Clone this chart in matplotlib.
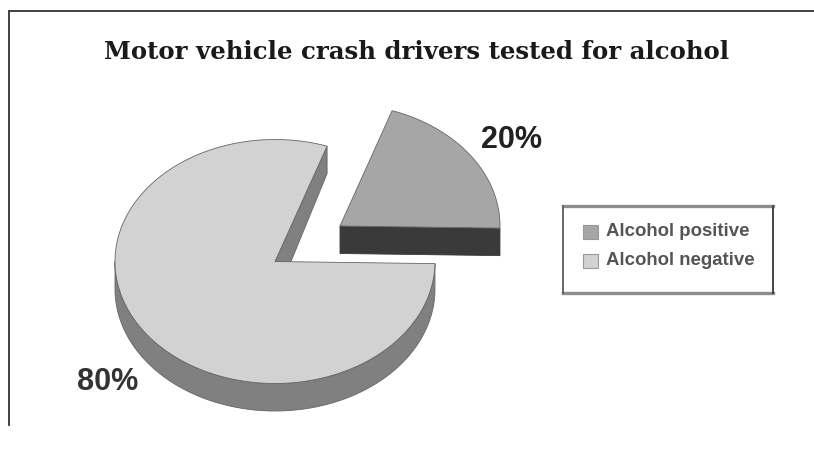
import matplotlib
matplotlib.use("Agg")
import matplotlib.pyplot as plt
import numpy as np
from matplotlib.patches import Polygon, Rectangle

# Datos
categorias = ["Alcohol positive", "Alcohol negative"]
porcentajes = [20, 80]
etiquetas = ["20%", "80%"]
titulo = "Motor vehicle crash drivers tested for alcohol"

# Colores
gris_pos = "#a6a6a6"
gris_pos_lado = "#3a3a3a"
gris_neg = "#d2d2d2"
gris_neg_lado = "#808080"
borde = "#666666"

# Geometria del pastel en pixeles
cx, cy = 275, 261.5
rx, ry = 160, 122
prof = 27.5
sep_x, sep_y = 65, -35.5
inicio = -1

fig = plt.figure(figsize=(8.14, 4.51), dpi=100)
ax = fig.add_axes([0, 0, 1, 1])
ax.set_xlim(0, 814)
ax.set_ylim(451, 0)
ax.axis("off")


def arco(a0, a1, x0, y0):
    t = np.radians(np.linspace(a0, a1, 200))
    return np.column_stack([x0 + rx * np.cos(t), y0 - ry * np.sin(t)])


ang_pos = 360 * porcentajes[0] / sum(porcentajes)
fin = inicio + ang_pos

# Marco (solo arriba e izquierda)
ax.plot([8.5, 8.5, 814], [425, 10.5, 10.5], color="#333333", lw=1.3, solid_joinstyle="miter")

# Rebanada grande: lado
lado = arco(180, 360 + inicio, cx, cy)
lado = np.vstack([lado, lado[::-1] + [0, prof]])
ax.add_patch(Polygon(lado, closed=True, fc=gris_neg_lado, ec=borde, lw=0.6))
# pared interior visible del corte
px, py = arco(fin, fin, cx, cy)[0]
pared = [(cx, cy), (px, py), (px, py + prof), (cx + 16, cy)]
ax.add_patch(Polygon(pared, closed=True, fc=gris_neg_lado, ec=borde, lw=0.6))
# Rebanada grande: cara
cara = np.vstack([[cx, cy], arco(fin, 360 + inicio, cx, cy)])
ax.add_patch(Polygon(cara, closed=True, fc=gris_neg, ec=borde, lw=0.6))

# Rebanada separada
x2, y2 = cx + sep_x, cy + sep_y
qx, qy = arco(inicio, inicio, x2, y2)[0]
frente = [(x2, y2), (qx, qy), (qx, qy + prof), (x2, y2 + prof)]
ax.add_patch(Polygon(frente, closed=True, fc=gris_pos_lado, ec=gris_pos_lado, lw=0.6))
cara2 = np.vstack([[x2, y2], arco(inicio, fin, x2, y2)])
ax.add_patch(Polygon(cara2, closed=True, fc=gris_pos, ec=borde, lw=0.6))

# Titulo
ax.text(416.5, 52, titulo, ha="center", va="center", fontsize=17.6, fontweight="bold",
        family="DejaVu Serif", color="#1a1a1a")

# Etiquetas
ax.text(511, 140, etiquetas[0], ha="center", va="center", fontsize=22, family="Liberation Sans",
        fontweight="bold", color="#222222")
ax.text(108, 382, etiquetas[1], ha="center", va="center", fontsize=22, family="Liberation Sans",
        fontweight="bold", color="#333333")

# Leyenda
ax.add_patch(Rectangle((563, 206), 210, 87, fc="white", ec="none"))
ax.plot([563, 773], [206, 206], color="#8c8c8c", lw=2.4)
ax.plot([563, 773], [293, 293], color="#8c8c8c", lw=2.4)
ax.plot([563, 563], [206, 293], color="#666666", lw=1.4)
ax.plot([773, 773], [206, 293], color="#444444", lw=1.4)
colores = [gris_pos, gris_neg]
for i, (nombre, color) in enumerate(zip(categorias, colores)):
    y = 232 + i * 28.5
    ax.add_patch(Rectangle((583, y - 7), 15, 14, fc=color, ec="#999999", lw=0.8))
    ax.text(606, y, nombre, ha="left", va="center", fontsize=13.4, family="Liberation Sans",
            fontweight="bold", color="#555555")

fig.savefig("out.png", dpi=100)
